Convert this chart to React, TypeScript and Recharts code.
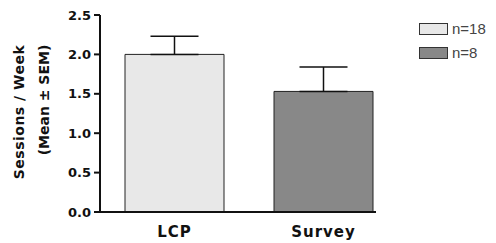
import { BarChart, Bar, Cell, XAxis, YAxis, ErrorBar, Label } from 'recharts';

const categories = ['LCP', 'Survey'];
const means = [2.0, 1.53];
const sems = [0.23, 0.31];
const groupSizes = ['n=18', 'n=8'];
const barColors = ['#e8e8e8', '#888888'];
const yTicks = [0, 0.5, 1, 1.5, 2, 2.5];

const data = categories.map((name, i) => ({
  name,
  mean: means[i],
  err: [0, sems[i]],
}));

const axisFont = 'DejaVu Sans, sans-serif';

function YTitle() {
  return (
    <g fontFamily={axisFont} fontWeight="bold" fontSize={14} fill="#111" textAnchor="middle">
      <text x={19} y={112} transform="rotate(-90 19 112)" dominantBaseline="central" letterSpacing={0.5}>
        Sessions / Week
      </text>
      <text x={44} y={100} transform="rotate(-90 44 100)" dominantBaseline="central">
        (Mean ± SEM)
      </text>
    </g>
  );
}

export default function App() {
  return (
    <div style={{ position: 'absolute', left: 0, top: 0, width: 496, height: 243, background: '#fff' }}>
      <BarChart
        width={496}
        height={243}
        data={data}
        margin={{ top: 15, right: 120, left: 0, bottom: 0 }}
        barCategoryGap={25}
      >
        <XAxis
          dataKey="name"
          height={31}
          padding={{ left: 0, right: -22 }}
          axisLine={{ stroke: '#111', strokeWidth: 2 }}
          tickLine={false}
          tick={{ fill: '#111', fontSize: 15, fontWeight: 'bold', fontFamily: axisFont, letterSpacing: 1 }}
          tickMargin={8}
        />
        <YAxis
          width={100}
          domain={[0, 2.5]}
          ticks={yTicks}
          tickFormatter={(v: number) => v.toFixed(1)}
          axisLine={{ stroke: '#111', strokeWidth: 2 }}
          tickLine={{ stroke: '#111', strokeWidth: 2 }}
          tickSize={6}
          tickMargin={3}
          tick={{ fill: '#111', fontSize: 13, fontWeight: 'bold', fontFamily: axisFont }}
        >
          <Label content={<YTitle />} />
        </YAxis>
        <Bar dataKey="mean" stroke="#222" strokeWidth={1} isAnimationActive={false}>
          {data.map((d, i) => (
            <Cell key={d.name} fill={barColors[i]} />
          ))}
          <ErrorBar dataKey="err" width={24} stroke="#111" strokeWidth={1.5} isAnimationActive={false} />
        </Bar>
      </BarChart>
      {groupSizes.map((label, i) => (
        <div
          key={label}
          style={{
            position: 'absolute',
            left: 419,
            top: 22 + i * 24,
            display: 'flex',
            alignItems: 'center',
            fontFamily: 'Liberation Sans, Arial, sans-serif',
            fontSize: 15,
            color: '#444',
            lineHeight: '14px',
          }}
        >
          <span
            style={{
              display: 'inline-block',
              width: 27,
              height: 10,
              border: '1px solid #333',
              background: barColors[i],
              marginRight: 4,
            }}
          />
          {label}
        </div>
      ))}
    </div>
  );
}
